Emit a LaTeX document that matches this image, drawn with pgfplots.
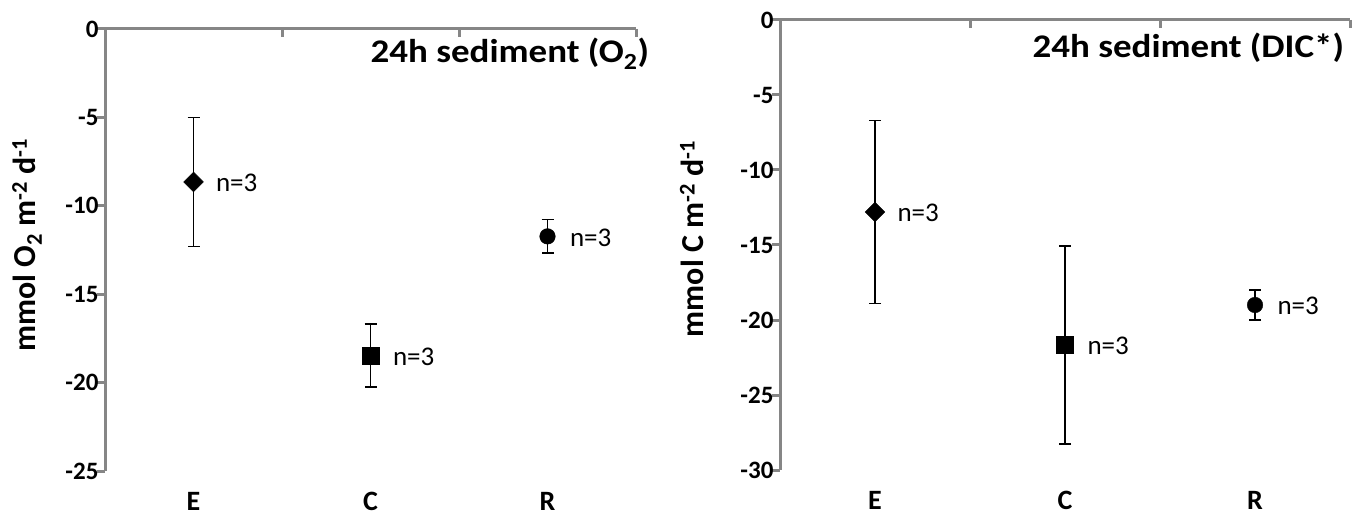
\documentclass[border=0pt]{standalone}
\usepackage{pgfplots}
\pgfplotsset{compat=1.18}
\usepackage{fontspec}
\setmainfont{Carlito}
\definecolor{axgray}{RGB}{134,134,134}
\tikzset{topline/.style={draw=axgray, line width=3pt}}
\pgfplotsset{
  panel/.style={
    scale only axis,
    anchor=south west,
    xmin=0.5, xmax=3.5,
    xtick={1,2,3},
    xticklabels={E,C,R},
    axis y line*=left,
    axis x line*=bottom,
    axis line style={draw=axgray, line width=3pt},
    x axis line style={draw=none},
    major x tick style={draw=none},
    every outer y axis line/.append style={draw=axgray, line width=3pt},
    y axis line style={draw=axgray, line width=3pt},
    major y tick style={draw=axgray, line width=3pt},
    tick align=outside,
    major tick length=8pt,
    /pgf/number format/assume math mode=true,
    yticklabel style={font=\fontsize{25}{30}\selectfont\bfseries, xshift=5pt},
    xticklabel style={font=\fontsize{28}{32}\selectfont\bfseries, anchor=base, yshift=-31pt},
    clip=false,
    error bars/y dir=both,
    error bars/y explicit,
    error bars/error bar style={line width=1.6pt, black},
    error bars/error mark options={mark size=6pt, line width=1.6pt, black, rotate=90},
    nodes near coords={n=3},
    nodes near coords align=horizontal,
    every node near coord/.style={anchor=west, xshift=19pt, yshift=-1pt, font=\fontsize{27}{32}\selectfont, text=black},
  },
}
\begin{document}
\begin{tikzpicture}
\useasboundingbox (0,0) rectangle (1365pt,517pt);
% ---------- left panel ----------
\begin{axis}[panel, at={(105pt,46pt)}, width=531pt, height=442pt,
  ymin=-25, ymax=0, ytick={-25,-20,-15,-10,-5,0}]
\draw[topline] (axis cs:0.5,0) -- (axis cs:3.5,0);
\draw[topline] (axis cs:1.5,0) -- ([yshift=-8pt]axis cs:1.5,0);
\draw[topline] (axis cs:2.5,0) -- ([yshift=-8pt]axis cs:2.5,0);
\draw[topline] (axis cs:3.5,0) -- ([yshift=-8pt]axis cs:3.5,0);
\addplot[only marks, mark=square*, mark size=7pt, mark options={rotate=45, fill=black, draw=black}]
  coordinates {(1,-8.65) +- (0,3.65)};
\addplot[only marks, mark=square*, mark size=8.5pt, mark options={fill=black, draw=black}]
  coordinates {(2,-18.47) +- (0,1.77)};
\addplot[only marks, mark=*, mark size=7.8pt, mark options={fill=black, draw=black}]
  coordinates {(3,-11.73) +- (0,0.95)};
\end{axis}
\node[rotate=90, font=\fontsize{32}{36}\selectfont\bfseries] at (27pt,272pt)
  {mmol O\textsubscript{2} m\textsuperscript{-2} d\textsuperscript{-1}};
\node[anchor=base east, xscale=1.12, font=\fontsize{33}{38}\selectfont\bfseries] at (653pt,454pt)
  {24h sediment (O\textsubscript{2})};
% ---------- right panel ----------
\begin{axis}[panel, at={(780pt,47pt)}, width=570pt, height=450pt,
  ymin=-30, ymax=0, ytick={-30,-25,-20,-15,-10,-5,0}]
\draw[topline] (axis cs:0.5,0) -- (axis cs:3.5,0);
\draw[topline] (axis cs:1.5,0) -- ([yshift=-8pt]axis cs:1.5,0);
\draw[topline] (axis cs:2.5,0) -- ([yshift=-8pt]axis cs:2.5,0);
\draw[topline] (axis cs:3.5,0) -- ([yshift=-8pt]axis cs:3.5,0);
\addplot[only marks, mark=square*, mark size=7pt, mark options={rotate=45, fill=black, draw=black}]
  coordinates {(1,-12.8) +- (0,6.1)};
\addplot[only marks, mark=square*, mark size=8.5pt, mark options={fill=black, draw=black}]
  coordinates {(2,-21.65) +- (0,6.6)};
\addplot[only marks, mark=*, mark size=7.8pt, mark options={fill=black, draw=black}]
  coordinates {(3,-19.0) +- (0,1.0)};
\end{axis}
\node[rotate=90, font=\fontsize{32}{36}\selectfont\bfseries] at (692pt,278pt)
  {mmol C m\textsuperscript{-2} d\textsuperscript{-1}};
\node[anchor=base east, xscale=1.12, font=\fontsize{33}{38}\selectfont\bfseries] at (1348pt,459pt)
  {24h sediment (DIC*)};
\end{tikzpicture}
\end{document}
